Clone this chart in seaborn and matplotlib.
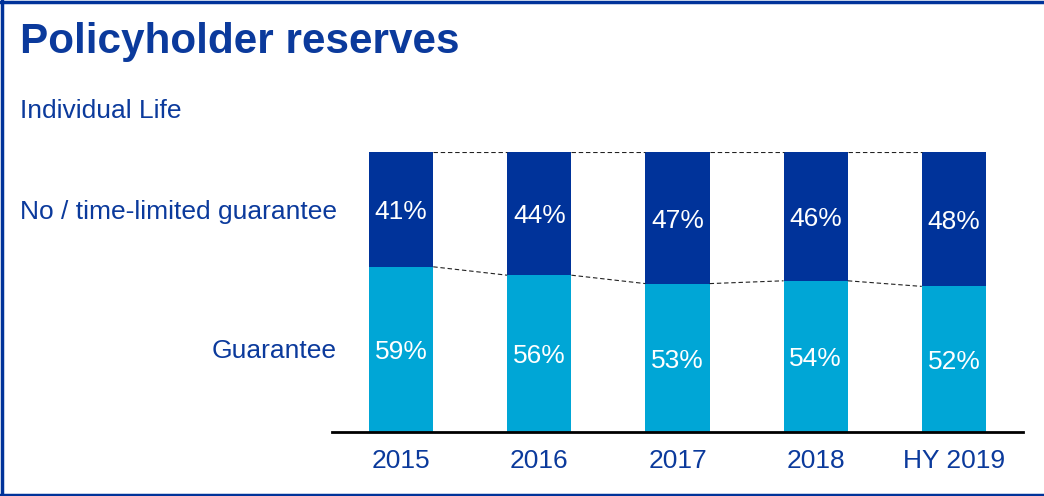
import matplotlib
matplotlib.use("Agg")
import matplotlib.pyplot as plt
import seaborn as sns
import pandas as pd
from matplotlib.lines import Line2D

# Data
categories = ["2015", "2016", "2017", "2018", "HY 2019"]
no_guarantee = [41, 44, 47, 46, 48]
guarantee = [59, 56, 53, 54, 52]

DARK = "#00339A"
LIGHT = "#00A6D6"
TEXT = "#0B3A9C"
FS = 19

sns.set_theme(style="white")
plt.rcParams["font.family"] = ["Liberation Sans", "DejaVu Sans"]

df = pd.DataFrame({
    "year": categories,
    "guarantee": guarantee,
    "no_guarantee": no_guarantee,
})
df["total"] = df["guarantee"] + df["no_guarantee"]

W, H = 1044, 496
fig = plt.figure(figsize=(W / 100, H / 100), dpi=100)
ax = fig.add_axes([332 / W, 1 - 432 / H, 691 / W, 280 / H])

bw = 0.465
sns.barplot(data=df, x="year", y="total", color=DARK, width=bw,
            saturation=1, ax=ax, edgecolor="none", linewidth=0)
sns.barplot(data=df, x="year", y="guarantee", color=LIGHT, width=bw,
            saturation=1, ax=ax, edgecolor="none", linewidth=0)

ax.set_xlim(-0.5, 4.5)
ax.set_ylim(0, 100)
ax.set_xlabel("")
ax.set_ylabel("")
ax.set_yticks([])
for s in ["top", "right", "left"]:
    ax.spines[s].set_visible(False)
ax.spines["bottom"].set_color("black")
ax.spines["bottom"].set_linewidth(2)
ax.tick_params(axis="x", length=0, pad=12.5, labelsize=FS, labelcolor=TEXT)

# Segment value labels
for i in range(len(categories)):
    g = guarantee[i]
    n = no_guarantee[i]
    ax.annotate(f"{g}%", (i, g / 2), xytext=(0, -2), textcoords="offset points",
                ha="center", va="center", color="white", fontsize=FS)
    ax.annotate(f"{n}%", (i, g + n / 2), xytext=(0, -2), textcoords="offset points",
                ha="center", va="center", color="white", fontsize=FS)

# Dashed connectors between adjacent bars
half = bw / 2
for i in range(len(categories) - 1):
    ax.plot([i + half, i + 1 - half],
            [guarantee[i] + no_guarantee[i], guarantee[i + 1] + no_guarantee[i + 1]],
            ls=(0, (4, 2.5)), color="#222222", lw=0.8)
    ax.plot([i + half, i + 1 - half], [guarantee[i], guarantee[i + 1]],
            ls=(0, (4, 2.5)), color="#222222", lw=0.8)

# Row labels
fig.text(337 / W, 1 - 212 / H, "No / time-limited guarantee", ha="right",
         va="center", color=TEXT, fontsize=FS)
fig.text(337 / W, 1 - 351 / H, "Guarantee", ha="right", va="center",
         color=TEXT, fontsize=FS)

# Title and subtitle
fig.text(20 / W, 1 - 42 / H, "Policyholder reserves", ha="left", va="center",
         color=TEXT, fontsize=30.4, fontweight="bold")
fig.text(20 / W, 1 - 111 / H, "Individual Life", ha="left", va="center",
         color=TEXT, fontsize=FS)

# Slide frame
frame_kw = dict(color=DARK, lw=2.5, transform=fig.transFigure)
fig.add_artist(Line2D([1.5 / W, 1.5 / W], [0, 1], **frame_kw))
fig.add_artist(Line2D([0, 1], [1 - 2 / H, 1 - 2 / H], **frame_kw))
fig.add_artist(Line2D([0, 1], [1.5 / H, 1.5 / H], **frame_kw))

fig.savefig("out.png", dpi=100)
